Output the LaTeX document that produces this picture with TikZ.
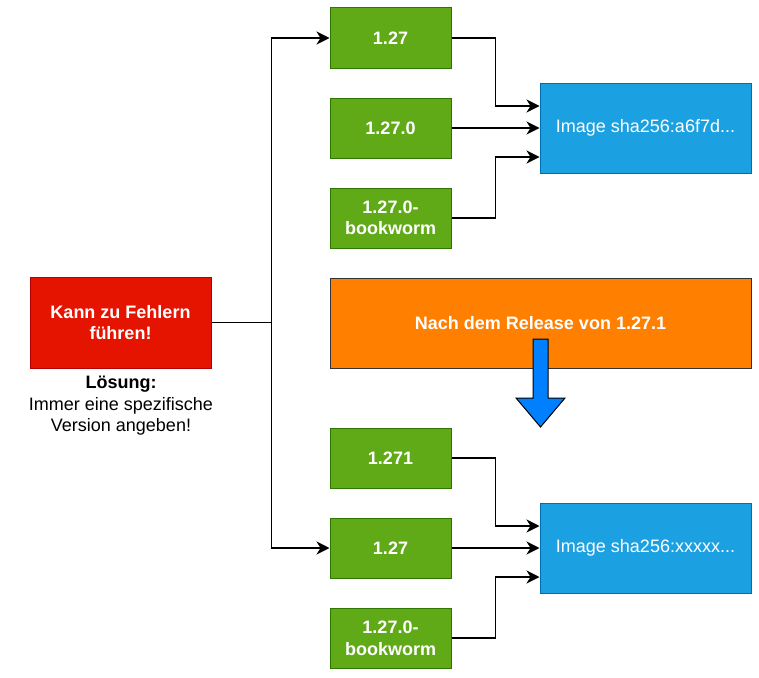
\documentclass[tikz,border=0pt]{standalone}
\usepackage{fontspec}
\setmainfont{Liberation Sans}
\usetikzlibrary{arrows.meta}
\definecolor{tagfill}{HTML}{60A917}
\definecolor{tagline}{HTML}{2D7600}
\definecolor{imgfill}{HTML}{1BA1E2}
\definecolor{imgline}{HTML}{006EAF}
\definecolor{warnfill}{HTML}{E51400}
\definecolor{warnline}{HTML}{B20000}
\definecolor{relfill}{HTML}{FF8000}
\definecolor{downfill}{HTML}{007FFF}
\tikzset{
  box/.style = {draw, line width=1pt, text=white, align=center,
    font=\fontsize{18}{21.6}\selectfont, inner sep=0pt},
  version/.style = {box, fill=tagfill, draw=tagline, font=\fontsize{18}{21.6}\selectfont\bfseries,
    minimum width=121pt, minimum height=60pt},
  digest/.style = {box, fill=imgfill, draw=imgline, minimum width=211pt, minimum height=90pt},
  warning/.style = {box, fill=warnfill, draw=warnline, font=\fontsize{18}{21.6}\selectfont\bfseries,
    minimum width=181pt, minimum height=91pt},
  release/.style = {box, fill=relfill, draw=black!80, font=\fontsize{18}{21.6}\selectfont\bfseries,
    minimum width=421pt, minimum height=90pt},
  conn/.style = {line width=1.5pt, -{Stealth[length=13pt,width=13pt,inset=4pt]}}
}

\begin{document}
\begin{tikzpicture}[x=1pt,y=-1pt]
  \useasboundingbox (0,0) rectangle (759,677);
  % before the release
  \node[version] (a1) at (390.5,38)  {1.27};
  \node[version] (a2) at (390.5,128) {1.27.0};
  \node[version] (a3) at (390.5,218) {1.27.0-\\bookworm};
  \node[digest]  (imgA) at (645.5,128) {Image sha256:a6f7d...};
  \draw[conn] (a1.east) -- ++(44,0) |- ([yshift=22pt]imgA.west);
  \draw[conn] (a2.east) -- (imgA.west);
  \draw[conn] (a3.east) -- ++(44,0) |- ([yshift=-29pt]imgA.west);
  %
  \node[release] (rel) at (540.5,323) {Nach dem Release von 1.27.1};
  \draw[line width=1pt, fill=downfill] (533,339) -- (548,339) -- (548,398) -- (565,398)
    -- (540.5,427) -- (516,398) -- (533,398) -- cycle;
  % after the release
  \node[version] (b1) at (390.5,458) {1.271};
  \node[version] (b2) at (390.5,548) {1.27};
  \node[version] (b3) at (390.5,638) {1.27.0-\\bookworm};
  \node[digest]  (imgB) at (645.5,548) {Image sha256:xxxxx...};
  \draw[conn] (b1.east) -- ++(44,0) |- ([yshift=22pt]imgB.west);
  \draw[conn] (b2.east) -- (imgB.west);
  \draw[conn] (b3.east) -- ++(44,0) |- ([yshift=-29pt]imgB.west);
  % the floating tag
  \node[warning] (warn) at (120.5,322.5) {Kann zu Fehlern\\führen!};
  \node[align=center, font=\fontsize{18}{21.6}\selectfont] (fix) at (121,406)
    {\textbf{Lösung:}\\Immer eine spezifische\\Version angeben!};
  \coordinate (split) at ([xshift=60pt]warn.east);
  \draw[line width=1.5pt] (warn.east) -- (split);
  \draw[conn] (split) |- (a1.west);
  \draw[conn] (split) |- (b2.west);
\end{tikzpicture}
\end{document}
